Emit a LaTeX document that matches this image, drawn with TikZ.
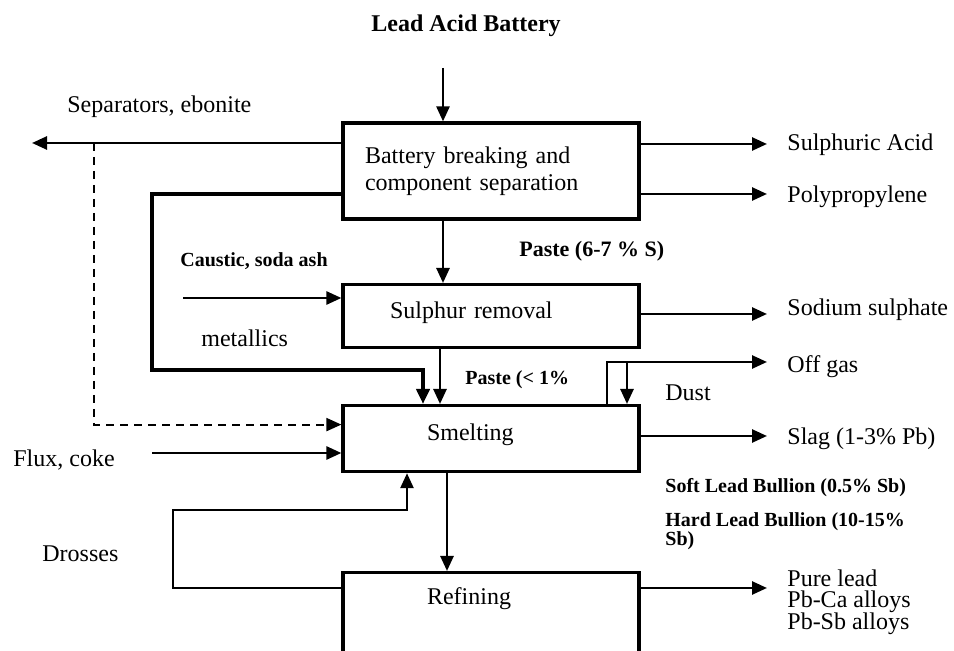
\documentclass[tikz,border=0pt]{standalone}
\usepackage{fontspec}
\setmainfont{Liberation Serif}
\usetikzlibrary{arrows.meta}

\newcommand\tightlines{\lineskiplimit=-10pt\relax}

\tikzset{
    unit/.style={draw, line width=1.6pt, align=left, inner ysep=4pt,
        font=\fontsize{12pt}{13.5pt}\selectfont},
    flow/.style={line width=1.3pt, -{Triangle[length=7.5pt, width=6.5pt]}},
    lbl/.style={inner sep=0pt, font=\fontsize{12pt}{13.5pt}\selectfont},
    blbl/.style={inner sep=0pt, font=\bfseries\fontsize{10pt}{12pt}\selectfont}
}

\begin{document}
\begin{tikzpicture}[x=0.5pt, y=-0.5pt]
    \useasboundingbox (0,0) rectangle (954,651);

    % process units
    \node[unit, text width=126pt, inner xsep=11pt, minimum height=48pt] (brk) at (491,171) {Battery breaking and\\component separation};
    \node[unit, anchor=north, text width=101pt, inner xsep=23.5pt, text height=13pt, text depth=10.5pt] (sulph) at (491,283) {Sulphur removal};
    \node[unit, anchor=north, text width=64pt, inner xsep=42pt, text height=13.5pt, text depth=11.5pt] (smelt) at (491,404) {Smelting};
    \node[unit, anchor=north, text width=64pt, inner xsep=42pt, text height=12pt, text depth=60pt] (refine) at (491,571) {Refining};

    % streams
    \node[lbl, font=\bfseries\fontsize{12pt}{14pt}\selectfont, anchor=base] (battery) at (466,32) {Lead Acid Battery};
    \node[lbl, anchor=base west] (sep) at (67,113) {Separators, ebonite};
    \node[lbl, anchor=base west] (acid) at (787,151) {Sulphuric Acid};
    \node[lbl, anchor=base west] (poly) at (787,203) {Polypropylene};
    \node[blbl, font=\bfseries\fontsize{11pt}{13pt}\selectfont, anchor=base west] (paste1) at (519,257) {Paste (6-7 \% S)};
    \node[blbl, anchor=base west] (caustic) at (180,267) {Caustic, soda ash};
    \node[lbl, anchor=base west] (sodium) at (787,316) {Sodium sulphate};
    \node[lbl, anchor=base west] (metal) at (201,347) {metallics};
    \node[blbl, anchor=base west] (paste2) at (465,385) {Paste (< 1\%};
    \node[lbl, anchor=base west] (gas) at (787,373) {Off gas};
    \node[lbl, anchor=base west] (dust) at (665,401) {Dust};
    \node[lbl, anchor=base west] (slag) at (787,445) {Slag (1-3\% Pb)};
    \node[lbl, anchor=base west] (flux) at (13,467) {Flux, coke};
    \node[blbl, anchor=base west] (soft) at (665,493) {Soft Lead Bullion (0.5\% Sb)};
    \node[blbl, font=\bfseries\fontsize{10pt}{9.5pt}\selectfont\tightlines, align=left, anchor=north west] (hard) at (665,512) {Hard Lead Bullion (10-15\%\\Sb)};
    \node[lbl, anchor=base west] (dross) at (42,562) {Drosses};
    \node[lbl, font=\fontsize{12pt}{10.75pt}\selectfont\tightlines, align=left, anchor=north west] (prod) at (787,569) {Pure lead\\Pb-Ca alloys\\Pb-Sb alloys};

    \coordinate (feed) at (443,68);
    \coordinate (sepend) at (32,143);
    \coordinate (sepsplit) at (94,143);
    \coordinate (metcorner) at (152,370);
    \coordinate (causticin) at (183,298);
    \coordinate (fluxin) at (152,453);
    \coordinate (drosscorner) at (173,510);
    \coordinate (dustdrop) at (627,362);

    % connections
    \draw[flow] (feed) -- (feed |- brk.north);
    \draw[flow] (brk.west |- sepend) -- (sepend);
    \draw[flow, line width=1pt, dash pattern=on 4pt off 3pt] (sepsplit) |- ([yshift=7pt]smelt.west);
    \draw[flow, line width=2.4pt] ([yshift=-11.5pt]brk.west) -| (metcorner) -| ([xshift=-34pt]smelt.north);
    \draw[flow] (brk.south -| feed) -- (sulph.north -| feed);
    \draw[flow] ([yshift=3.5pt]acid.base west -| brk.east) -- ([xshift=-10pt,yshift=3.5pt]acid.base west);
    \draw[flow] ([yshift=4.5pt]poly.base west -| brk.east) -- ([xshift=-10pt,yshift=4.5pt]poly.base west);
    \draw[flow] (causticin) -- (causticin -| sulph.west);
    \draw[flow] ([yshift=1pt]sodium.base west -| sulph.east) -- ([xshift=-10pt,yshift=1pt]sodium.base west);
    \draw[flow] ([xshift=-25.5pt]sulph.south) -- ([xshift=-25.5pt]sulph.south |- smelt.north);
    \draw[flow] ([xshift=58pt]smelt.north) |- ([xshift=-10pt,yshift=5.5pt]gas.base west);
    \draw[flow] (dustdrop) -- (dustdrop |- smelt.north);
    \draw[flow] ([yshift=4.5pt]slag.base west -| smelt.east) -- ([xshift=-10pt,yshift=4.5pt]slag.base west);
    \draw[flow] (fluxin) -- (fluxin -| smelt.west);
    \draw[flow] ([xshift=-22pt]smelt.south) -- ([xshift=-22pt]smelt.south |- refine.north);
    \draw[flow] ([yshift=-8.5pt]refine.north west) -| (drosscorner) -| ([xshift=-42pt]smelt.south);
    \draw[flow] ([yshift=-9.5pt]prod.north west -| refine.east) -- ([xshift=-10pt,yshift=-9.5pt]prod.north west);
\end{tikzpicture}
\end{document}
